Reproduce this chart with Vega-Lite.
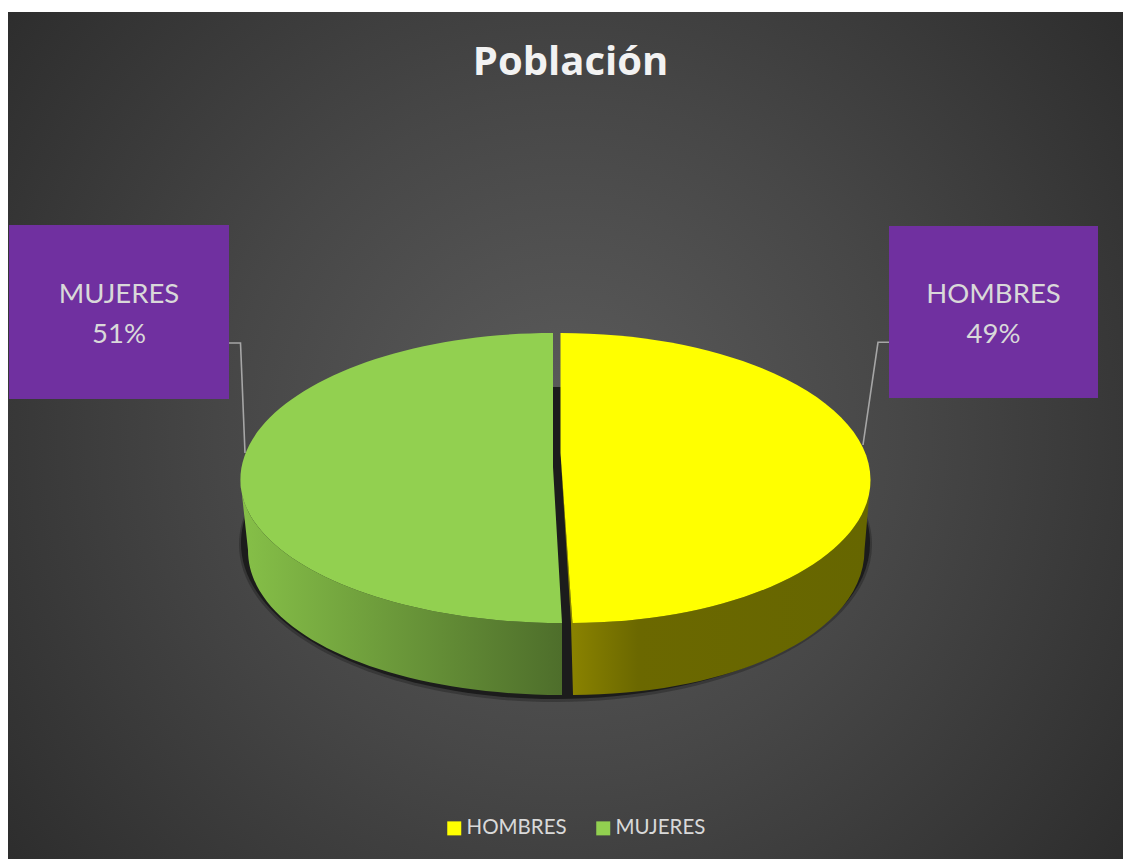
{
"$schema":"https://vega.github.io/schema/vega-lite/v6.json",
"width":1115,"height":847,
"padding":{"left":8,"top":12,"right":0,"bottom":0},
"autosize":{"type":"none"},
"background":"#ffffff",
"view":{"stroke":null},
"title":{"text":"Población","font":"Open Sans","fontWeight":"bold","fontSize":40,"color":"#f2f2f2","anchor":"middle","frame":"group","orient":"top","offset":-71,"dx":5},
"datasets":{
"pop":[
{"category":"HOMBRES","value":49,"share":"49%"},
{"category":"MUJERES","value":51,"share":"51%"}
],
"shadow":[{"part":"sombra"}]
},
"data":{"name":"pop"},
"layer":[
{"mark":{"type":"rect","fill":{"gradient":"radial","x1":0.5,"y1":0.5,"r1":0,"x2":0.5,"y2":0.5,"r2":0.67,"stops":[{"offset":0,"color":"#5c5c5c"},{"offset":0.45,"color":"#474747"},{"offset":1,"color":"#2a2a2a"}]}},"data":{"name":"shadow"},"encoding":{}},
{"data":{"name":"shadow"},"mark":{"type":"point","filled":true,"opacity":0.3,"fill":"#111111","size":4,"shape":"M-326.5,109 A316.5,157.5 0 1 1 306.5,109 A316.5,157.5 0 1 1 -326.5,109 Z"},"encoding":{}},
{"data":{"name":"shadow"},"mark":{"type":"point","filled":true,"opacity":1,"fill":"#1c1c1c","size":4,"shape":"M-324.5,107.5 A314.5,156 0 1 1 304.5,107.5 A314.5,156 0 1 1 -324.5,107.5 Z"},"encoding":{}},
{"transform":[{"filter":"datum.category==='MUJERES'"}],"mark":{"type":"point","filled":true,"opacity":1,"size":4,"fill":{"gradient":"linear","x1":0,"y1":0,"x2":1,"y2":0,"stops":[{"offset":0,"color":"#86c048"},{"offset":1,"color":"#4e6e2b"}]},"shape":"M-325.1,44.5 C-325.1,123.5 -181.1,187.5 -3.5,187.5 L-3.5,259.5 C-177,259.5 -317.5,199 -317.5,114.5 Z"},"encoding":{}},
{"transform":[{"filter":"datum.category==='HOMBRES'"}],"mark":{"type":"point","filled":true,"opacity":1,"size":4,"fill":{"gradient":"linear","x1":0,"y1":0,"x2":1,"y2":0,"stops":[{"offset":0,"color":"#8f8700"},{"offset":0.25,"color":"#6b6800"},{"offset":1,"color":"#666600"}]},"shape":"M-5,17.5 L7,187.5 L7,187.5 C171.6,187.5 305,123.5 305,44.5 L299,114.5 C299,199 166,259.5 7.5,259.5 L5.5,187.5 Z"},"encoding":{}},
{"mark":{"type":"point","filled":true,"opacity":1},
"encoding":{
"size":{"value":4},
"color":{"field":"category","type":"nominal","scale":{"domain":["HOMBRES","MUJERES"],"range":["#ffff00","#92d050"]},
"legend":{"orient":"none","legendX":436,"legendY":806,"direction":"horizontal","title":null,"symbolType":"square","symbolSize":196,"symbolStrokeWidth":0,"symbolOpacity":1,"labelColor":"#d9d9d9","labelFont":"Lato","labelFontSize":20.5,"labelOffset":2,"columnPadding":26,"padding":0}},
"shape":{"field":"category","type":"nominal","legend":null,"scale":{"domain":["HOMBRES","MUJERES"],"range":[
"M-5,-102.5 C166.2,-102.5 305,-36.7 305,44.5 C305,123.5 171.6,187.5 7,187.5 L-5,17.5 Z",
"M-12.5,-102.5 C-185.1,-102.5 -325.1,-36.7 -325.1,44.5 C-325.1,123.5 -181.1,187.5 -3.5,187.5 L-12.5,31.5 Z"]}}
}},
{"mark":{"type":"point","filled":false,"opacity":1,"stroke":"#a6a6a6","strokeWidth":1.6},
"encoding":{
"size":{"value":4},
"shape":{"field":"category","type":"nominal","legend":null,"scale":{"domain":["HOMBRES","MUJERES"],"range":[
"M323.5,-93.2 L312.5,-93.2 L297.5,9.5",
"M-336.5,-92.5 L-325,-92.5 L-320.5,17.5"]}}
}},
{"transform":[{"filter":"datum.category==='MUJERES'"}],"mark":{"type":"rect","fill":"#7030a0","width":220,"height":174},
"encoding":{
"x":{"field":"category","type":"nominal","axis":null,"scale":{"type":"point","padding":0,"domain":["MUJERES","HOMBRES"],"range":[111,985.5]}},
"y":{"field":"category","type":"nominal","axis":null,"scale":{"type":"point","padding":0,"domain":["MUJERES","HOMBRES"],"range":[300,300]}}
}},
{"transform":[{"filter":"datum.category==='HOMBRES'"}],"mark":{"type":"rect","fill":"#7030a0","width":209,"height":172},
"encoding":{
"x":{"field":"category","type":"nominal","axis":null,"scale":{"type":"point","padding":0,"domain":["MUJERES","HOMBRES"],"range":[111,985.5]}},
"y":{"field":"category","type":"nominal","axis":null,"scale":{"type":"point","padding":0,"domain":["MUJERES","HOMBRES"],"range":[300,300]}}
}},
{"mark":{"type":"text","font":"Lato","fontSize":27.5,"color":"#d9d9d9","align":"center","baseline":"middle","dy":-17},
"encoding":{
"text":{"field":"category"},
"x":{"field":"category","type":"nominal","axis":null,"scale":{"type":"point","padding":0,"domain":["MUJERES","HOMBRES"],"range":[111,985.5]}},
"y":{"field":"category","type":"nominal","axis":null,"scale":{"type":"point","padding":0,"domain":["MUJERES","HOMBRES"],"range":[300,300]}}
}},
{"mark":{"type":"text","font":"Lato","fontSize":27.5,"color":"#d9d9d9","align":"center","baseline":"middle","dy":23},
"encoding":{
"text":{"field":"share"},
"x":{"field":"category","type":"nominal","axis":null,"scale":{"type":"point","padding":0,"domain":["MUJERES","HOMBRES"],"range":[111,985.5]}},
"y":{"field":"category","type":"nominal","axis":null,"scale":{"type":"point","padding":0,"domain":["MUJERES","HOMBRES"],"range":[300,300]}}
}}
],
"resolve":{"scale":{"shape":"independent"}}
}
